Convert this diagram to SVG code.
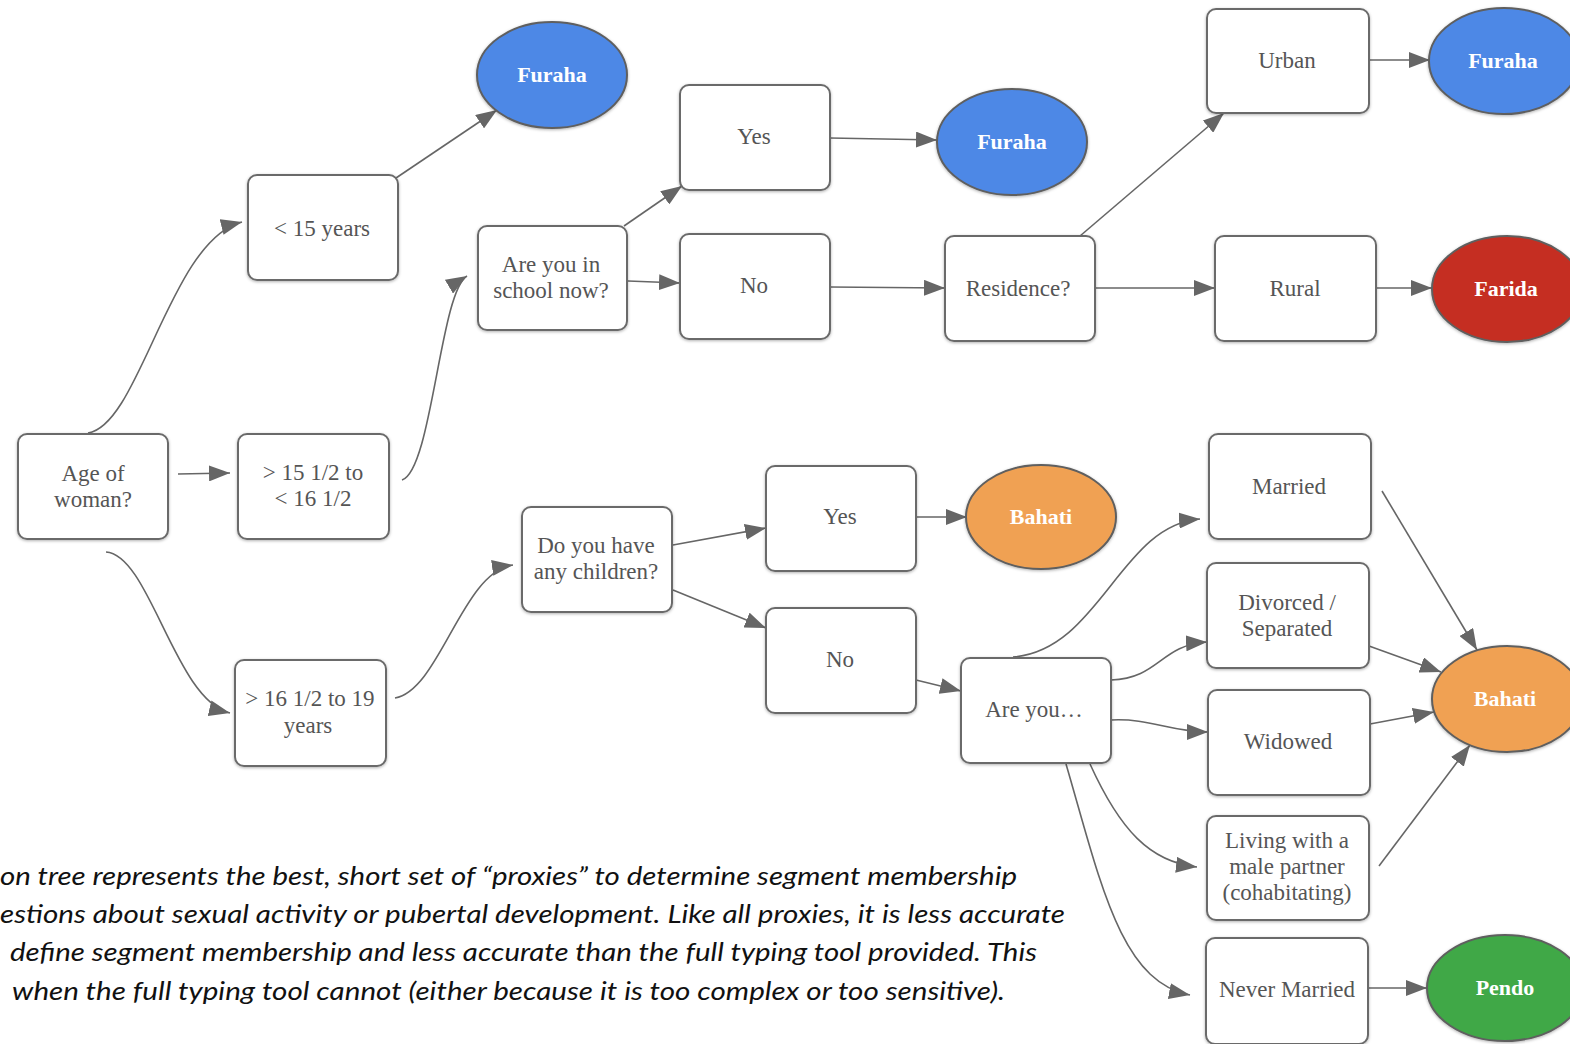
<svg xmlns="http://www.w3.org/2000/svg" width="1570" height="1044" viewBox="0 0 1570 1044">
<defs>
<filter id="sh" x="-10%" y="-10%" width="120%" height="120%">
<feDropShadow dx="0" dy="1" stdDeviation="1.5" flood-color="#000" flood-opacity="0.3"/>
</filter>
<marker id="ar" markerUnits="userSpaceOnUse" markerWidth="22" markerHeight="16" refX="21" refY="8" orient="auto">
<path d="M0,0 L21,8 L0,16 z" fill="#666"/>
</marker>
</defs>
<style>
.box{fill:#fff;stroke:#6b6b6b;stroke-width:2;filter:url(#sh)}
.t{font-family:"Liberation Serif","Times New Roman",serif;font-size:23px;fill:#555;text-anchor:middle}
.e{stroke:#5f5f5f;stroke-width:2;filter:url(#sh)}
.et{font-family:"Liberation Serif","Times New Roman",serif;font-size:22px;font-weight:bold;fill:#fff;text-anchor:middle}
.c{fill:none;stroke:#666;stroke-width:1.6;marker-end:url(#ar)}
.cap{font-family:"Lato","Liberation Sans",sans-serif;font-style:italic;font-size:25px;fill:#111}
</style>
<rect width="1570" height="1044" fill="#fff"/>

<g id="connectors">
<path class="c" d="M88,433 C140,425 170,240 242,222"/>
<path class="c" d="M178,474 L230,473"/>
<path class="c" d="M106,552 C150,555 175,700 230,713"/>
<path class="c" d="M402,480 C432,470 440,292 467,276"/>
<path class="c" d="M396,178 L497,110"/>
<path class="c" d="M624,226 L682,186"/>
<path class="c" d="M628,281 L680,283"/>
<path class="c" d="M830,138 L937,140"/>
<path class="c" d="M830,287 L945,288"/>
<path class="c" d="M1080,236 L1224,113"/>
<path class="c" d="M1095,288 L1215,288"/>
<path class="c" d="M1369,60 L1430,60"/>
<path class="c" d="M1376,288 L1432,288"/>
<path class="c" d="M395,698 C440,690 462,572 513,565"/>
<path class="c" d="M673,545 L766,528"/>
<path class="c" d="M673,590 L766,628"/>
<path class="c" d="M916,517 L967,517"/>
<path class="c" d="M916,680 L961,691"/>
<path class="c" d="M1013,657 C1100,650 1120,525 1200,519"/>
<path class="c" d="M1111,680 C1160,678 1160,645 1207,642"/>
<path class="c" d="M1111,720 C1150,718 1170,732 1208,732"/>
<path class="c" d="M1090,764 C1120,830 1150,862 1197,867"/>
<path class="c" d="M1066,764 C1100,880 1120,982 1190,995"/>
<path class="c" d="M1382,491 L1477,650"/>
<path class="c" d="M1369,646 L1441,672"/>
<path class="c" d="M1370,724 L1434,712"/>
<path class="c" d="M1379,866 L1470,745"/>
<path class="c" d="M1368,988 L1427,988"/>
</g>

<g id="n-age"><rect class="box" x="18" y="434" width="150" height="105" rx="9"/><text class="t" x="93" y="481">Age of</text><text class="t" x="93" y="507">woman?</text></g>
<g id="n-lt15"><rect class="box" x="248" y="175" width="150" height="105" rx="9"/><text class="t" x="322" y="236">&lt; 15 years</text></g>
<g id="n-15to16"><rect class="box" x="238" y="434" width="151" height="105" rx="9"/><text class="t" x="313" y="480">&gt; 15 1/2 to</text><text class="t" x="313" y="506">&lt; 16 1/2</text></g>
<g id="n-16to19"><rect class="box" x="235" y="660" width="151" height="106" rx="9"/><text class="t" x="310" y="706">&gt; 16 1/2 to 19</text><text class="t" x="308" y="733">years</text></g>
<g id="n-furaha1"><ellipse class="e" cx="552" cy="75" rx="75" ry="53" fill="#4d88e6"/><text class="et" x="552" y="82">Furaha</text></g>
<g id="n-school"><rect class="box" x="478" y="226" width="149" height="104" rx="9"/><text class="t" x="551" y="272">Are you in</text><text class="t" x="551" y="298">school now?</text></g>
<g id="n-yes1"><rect class="box" x="680" y="85" width="150" height="105" rx="9"/><text class="t" x="754" y="144">Yes</text></g>
<g id="n-furaha2"><ellipse class="e" cx="1012" cy="142" rx="75" ry="53" fill="#4d88e6"/><text class="et" x="1012" y="149">Furaha</text></g>
<g id="n-no1"><rect class="box" x="680" y="234" width="150" height="105" rx="9"/><text class="t" x="754" y="293">No</text></g>
<g id="n-residence"><rect class="box" x="945" y="236" width="150" height="105" rx="9"/><text class="t" x="1018" y="296">Residence?</text></g>
<g id="n-urban"><rect class="box" x="1207" y="9" width="162" height="104" rx="9"/><text class="t" x="1287" y="68">Urban</text></g>
<g id="n-furaha3"><ellipse class="e" cx="1504" cy="61" rx="75" ry="53" fill="#4d88e6"/><text class="et" x="1503" y="68">Furaha</text></g>
<g id="n-rural"><rect class="box" x="1215" y="236" width="161" height="105" rx="9"/><text class="t" x="1295" y="296">Rural</text></g>
<g id="n-farida"><ellipse class="e" cx="1507" cy="289" rx="75" ry="53" fill="#c52f21"/><text class="et" x="1506" y="296">Farida</text></g>
<g id="n-children"><rect class="box" x="522" y="507" width="150" height="105" rx="9"/><text class="t" x="596" y="553">Do you have</text><text class="t" x="596" y="579">any children?</text></g>
<g id="n-yes2"><rect class="box" x="766" y="466" width="150" height="105" rx="9"/><text class="t" x="840" y="524">Yes</text></g>
<g id="n-bahati1"><ellipse class="e" cx="1041" cy="517" rx="75" ry="52" fill="#f0a153"/><text class="et" x="1041" y="524">Bahati</text></g>
<g id="n-no2"><rect class="box" x="766" y="608" width="150" height="105" rx="9"/><text class="t" x="840" y="667">No</text></g>
<g id="n-areyou"><rect class="box" x="961" y="658" width="150" height="105" rx="9"/><text class="t" x="1034" y="717">Are you…</text></g>
<g id="n-married"><rect class="box" x="1209" y="434" width="162" height="105" rx="9"/><text class="t" x="1289" y="494">Married</text></g>
<g id="n-divorced"><rect class="box" x="1207" y="563" width="162" height="105" rx="9"/><text class="t" x="1287" y="610">Divorced /</text><text class="t" x="1287" y="636">Separated</text></g>
<g id="n-widowed"><rect class="box" x="1208" y="690" width="162" height="105" rx="9"/><text class="t" x="1288" y="749">Widowed</text></g>
<g id="n-living"><rect class="box" x="1207" y="816" width="162" height="104" rx="9"/><text class="t" x="1287" y="848">Living with a</text><text class="t" x="1287" y="874">male partner</text><text class="t" x="1287" y="900">(cohabitating)</text></g>
<g id="n-never"><rect class="box" x="1206" y="938" width="162" height="106" rx="9"/><text class="t" x="1287" y="997">Never Married</text></g>
<g id="n-bahati2"><ellipse class="e" cx="1507" cy="699" rx="75" ry="53" fill="#f0a153"/><text class="et" x="1505" y="706">Bahati</text></g>
<g id="n-pendo"><ellipse class="e" cx="1505" cy="988" rx="78" ry="53" fill="#3fa847"/><text class="et" x="1505" y="995">Pendo</text></g>

<g id="caption">
<text class="cap" x="0" y="885" textLength="1017" lengthAdjust="spacingAndGlyphs">on tree represents the best, short set of “proxies” to determine segment membership</text>
<text class="cap" x="0" y="923" textLength="1065" lengthAdjust="spacingAndGlyphs">estions about sexual activity or pubertal development. Like all proxies, it is less accurate</text>
<text class="cap" x="10" y="961" textLength="1027" lengthAdjust="spacingAndGlyphs">define segment membership and less accurate  than the full typing tool provided. This</text>
<text class="cap" x="12" y="1000" textLength="993" lengthAdjust="spacingAndGlyphs">when the full typing tool cannot (either because it is too complex or too sensitive).</text>
</g>
</svg>
